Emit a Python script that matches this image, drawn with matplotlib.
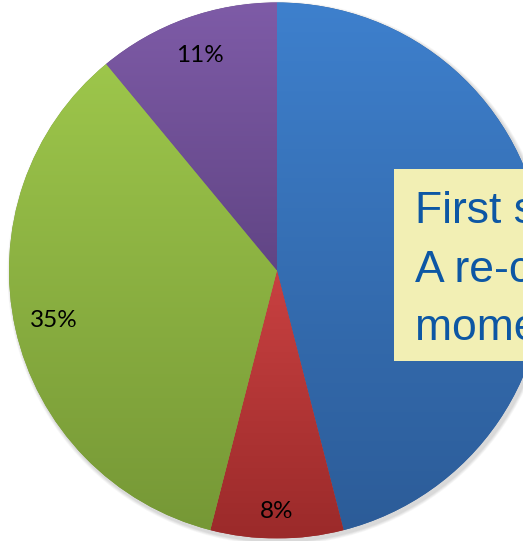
import matplotlib.pyplot as plt
import numpy as np
from matplotlib.colors import to_rgb
from matplotlib.patches import Ellipse

shares = [46, 8, 35, 11]
top_colors = ["#3e80cd", "#c94141", "#9dc64b", "#7e5ba7"]
bottom_colors = ["#2c5c98", "#9b2a2a", "#769836", "#614585"]
label_dist = [0.85, 0.90, 0.854, 0.854]
note_lines = ["First s", "A re-c", "mome"]

fig = plt.figure(figsize=(5.23, 5.41), dpi=100)
ax = fig.add_axes([0, 0, 1, 1])

# soft drop shadow behind the pie
for k, a in enumerate([0.05, 0.05, 0.06, 0.07]):
    grow = 0.014 - k * 0.003
    ax.add_patch(Ellipse((0.008, -0.01), 2 + 2 * grow, 2 + 2 * grow,
                         facecolor="#555555", edgecolor="none", alpha=a, zorder=0))

wedges, texts, pcts = ax.pie(shares, startangle=90, counterclock=False, radius=1,
                             autopct="%1.0f%%", pctdistance=0.85,
                             textprops=dict(fontsize=17.5, family="Lato", color="black"),
                             wedgeprops=dict(linewidth=0))

# vertical gradient in each slice, clipped to the wedge
for w, c_top, c_bot in zip(wedges, top_colors, bottom_colors):
    w.set_facecolor(c_bot)
    verts = w.get_path().vertices
    x0, x1 = verts[:, 0].min(), verts[:, 0].max()
    y0, y1 = verts[:, 1].min(), verts[:, 1].max()
    t = np.linspace(0, 1, 256)[:, None, None]
    grad = np.array(to_rgb(c_bot)) * (1 - t) + np.array(to_rgb(c_top)) * t
    im = ax.imshow(grad, extent=(x0, x1, y0, y1), origin="lower", aspect="auto",
                   interpolation="bilinear", zorder=1.5)
    im.set_clip_path(w)

for w, p, d in zip(wedges, pcts, label_dist):
    ang = np.deg2rad((w.theta1 + w.theta2) / 2)
    p.set_position((d * np.cos(ang), d * np.sin(ang)))
    p.set_zorder(3)
# the big slice's label sits under the note box
pcts[0].set_visible(False)

ax.set_aspect("auto")
ax.set_xlim(-277 / 268, (523 - 277) / 268)
ax.set_ylim(-(541 - 270.5) / 268, 270.5 / 268)
ax.axis("off")

# yellow note box running off the right edge
fig.patches.append(plt.Rectangle((394 / 523, 1 - 361 / 541), 0.5, (361 - 168.5) / 541,
                                 transform=fig.transFigure, facecolor="#f2efb4",
                                 edgecolor="none", zorder=5))
for i, line in enumerate(note_lines):
    fig.text(415 / 523, 1 - (223 + i * 58.5) / 541, line, fontsize=32,
             family="Liberation Sans", color="#0d57a4", va="baseline", zorder=6)

fig.savefig("out.png", dpi=100)
